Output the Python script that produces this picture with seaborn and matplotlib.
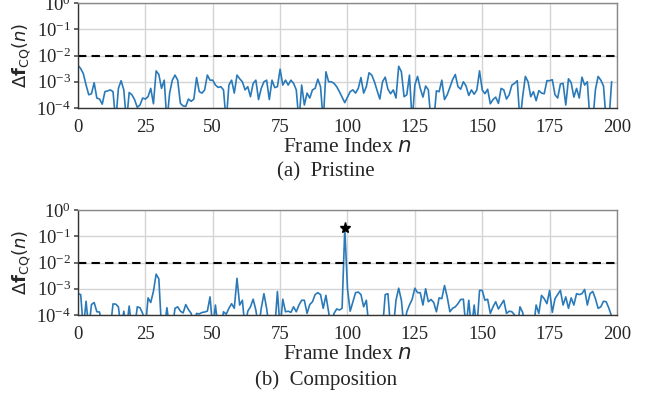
import numpy as np
import pandas as pd
import matplotlib
matplotlib.use("Agg")
import matplotlib.pyplot as plt
import seaborn as sns

C = 3e-5  # values below the axis floor (clipped in the figure)

frames_pristine = list(range(199))
pristine = [
    4.2e-3, 3.2e-3, 2.0e-3, 7.5e-4, 3.2e-4, 3.5e-4, 9.2e-4, 2.4e-4, 2.2e-4, 1.4e-4,
    4.2e-4, 4.5e-4, 4.9e-4, 4.2e-4, C, 5.6e-4, 1.1e-3, 4.9e-4, C, 3.9e-4,
    3.2e-4, 2.1e-4, 1.06e-4, 1.3e-4, 2.4e-4, 2.2e-4, 2.7e-4, 5.6e-4, 1.45e-4, 2.6e-3,
    1.9e-3, 5.6e-4, 1.15e-3, C, 3.7e-4, 1.15e-3, 1.8e-3, 1.15e-3, 1.5e-4, 1.2e-4,
    1.15e-4, 2.2e-4, 1.8e-4, 2.2e-4, 1.45e-3, 4.2e-4, 3.7e-4, 4.9e-4, 1.8e-3, 1.15e-3,
    1.15e-3, 7.5e-4, 6.1e-4, 6.5e-4, 4.9e-4, C, 7.5e-4, 1.15e-3, 3.7e-4, 1.8e-3,
    1.3e-3, 1.0e-3, 4.9e-4, 6.5e-4, 2.7e-4, 8.7e-4, 1.15e-3, 2.1e-4, 5.6e-4, 1.0e-3,
    1.15e-3, 2.1e-4, 1.15e-3, 6.0e-4, 6.5e-4, 3.0e-3, 7.5e-4, 1.15e-3, 7.5e-4, 1.15e-3,
    8.7e-4, 4.9e-4, C, 7.5e-4, 1.3e-4, 3.7e-4, 2.4e-4, 4.9e-4, 5.6e-4, 1.26e-3,
    6.5e-4, C, 2.4e-3, 1.0e-3, 1.0e-3, 8.7e-4, 6.5e-4, 4.2e-4, 2.6e-4, 1.6e-4,
    2.6e-4, 4.2e-4, 4.9e-4, 3.7e-4, 5.6e-4, 1.45e-3, 3.7e-4, 6.5e-4, 2.2e-3, 1.8e-3,
    1.0e-3, 4.6e-4, 2.2e-4, 1.0e-3, 1.5e-3, 5.2e-4, 3.5e-4, 4.9e-4, 2.4e-4, 3.9e-3,
    2.4e-3, 2.7e-4, 3.2e-4, 1.8e-3, C, 7.5e-4, 1.6e-3, 5.6e-4, 2.6e-4, 6.9e-4,
    4.9e-4, C, C, 4.5e-4, 4.2e-4, 1.15e-3, 2.1e-4, 3.2e-4, 6.1e-4, 1.2e-3,
    1.9e-3, 6.5e-4, 5.2e-4, 1.0e-3, 6.9e-4, 3.0e-4, 4.9e-4, 3.35e-4, 4.9e-4, 2.6e-3,
    4.9e-4, 3.5e-4, 5.2e-4, 1.45e-4, 2.1e-4, 2.6e-4, 1.5e-4, 5.6e-4, 4.9e-4, 2.2e-4,
    3.2e-4, 7.5e-4, 8.7e-4, 1.1e-3, C, 2.7e-4, 1.6e-3, 1.0e-3, 2.7e-4, 4.2e-4,
    1.9e-4, 4.6e-4, 3.7e-4, 3.5e-4, 1.1e-3, 1.1e-3, 1.2e-3, 3.2e-4, 2.4e-4, 8.2e-4,
    8.7e-4, 1.3e-4, 1.3e-3, 9.2e-4, 2.6e-4, 5.6e-4, 2.4e-4, 1.5e-3, 7.5e-4, 1.0e-3,
    C, C, 5.0e-4, 1.6e-3, 1.15e-3, 6.9e-4, C, C, 1.0e-3,
]

frames_composition = list(range(199))
composition = [
    6.5e-4, 6.0e-4, C, 3.35e-4, C, 2.5e-4, 3.0e-4, 1.33e-4, 1.3e-4, C,
    C, C, C, 2.65e-4, 2.6e-4, 2.05e-4, C, 1.4e-4, C, 2.2e-4,
    C, C, 2.05e-4, 1.9e-4, 1.15e-4, C, 4.5e-4, 3.0e-4, 8.0e-4, 3.6e-3,
    2.4e-3, C, C, 1.9e-4, C, C, 1.8e-4, 2.05e-4, 1.4e-4, 1.2e-4,
    2.5e-4, 1.6e-4, 1.15e-4, C, 1.15e-4, 1.1e-4, 1.25e-4, 1.3e-4, 1.4e-4, 4.9e-4,
    C, 2.4e-4, C, C, 1.33e-4, 1.07e-4, 1.8e-4, 2.7e-4, 1.8e-4, 2.5e-3,
    2.4e-4, 3.65e-4, C, 1.4e-4, 2.05e-4, 4.0e-4, 1.55e-4, C, 1.8e-4, 6.5e-4,
    1.8e-4, C, C, C, 7.9e-4, C, 4.0e-4, 1.33e-4, 1.4e-4, 1.26e-4,
    2.05e-4, 1.33e-4, 2.4e-4, 3.65e-4, 3.65e-4, 1.15e-4, 2.5e-4, 3.2e-4, 6.0e-4, 7.1e-4,
    6.0e-4, 1.8e-4, 5.6e-4, 1.33e-4, C, 1.15e-4, 1.7e-4, 1.55e-4, 1.8e-4, 2.0e-1,
    1.0e-3, 1.4e-4, 3.2e-4, 7.1e-4, 7.5e-4, 6.0e-4, 2.05e-4, 3.65e-4, C, C,
    C, C, C, C, 6.0e-4, 6.5e-4, C, C, 3.65e-4, 1.05e-3,
    3.65e-4, C, 1.33e-4, 2.4e-4, 4.0e-4, 1.05e-3, 7.1e-4, 7.1e-4, 2.4e-4, 1.0e-3,
    3.2e-4, 3.9e-4, 3.0e-4, 1.33e-4, 4.5e-4, 4.2e-4, 1.33e-3, 4.9e-4, 1.33e-4, 1.8e-4,
    2.05e-4, 2.7e-4, 3.9e-4, 4.0e-4, C, 3.65e-4, C, 2.4e-4, C, 8.7e-4,
    8.7e-4, 3.65e-4, 4.0e-4, 1.15e-4, 2.05e-4, 3.2e-4, 1.7e-4, 2.5e-4, 3.65e-4, 1.15e-4,
    1.4e-4, 1.33e-4, 1.0e-4, C, 2.05e-4, 1.26e-4, C, C, C, C,
    2.4e-4, 1.15e-4, 5.6e-4, 4.2e-4, 2.7e-4, 8.7e-4, 1.26e-4, 4.2e-4, 6.0e-4, 8.7e-4,
    2.4e-4, 4.9e-4, 1.8e-4, 4.5e-4, 2.4e-4, 6.5e-4, 6.0e-4, 6.5e-4, 9.4e-4, 2.4e-4,
    6.5e-4, 7.9e-4, 4.2e-4, 1.8e-4, 2.05e-4, 3.35e-4, 3.2e-4, 1.8e-4, 9.0e-5,
]

threshold = 1e-2
detected_frame = [99]
detected_value = [2.0e-1]

xticks = [0, 25, 50, 75, 100, 125, 150, 175, 200]
yticks = [1e-4, 1e-3, 1e-2, 1e-1, 1e0]
captions = ["(a)  Pristine", "(b)  Composition"]

sns.set_theme(style="whitegrid")
plt.rcParams["font.family"] = ["Liberation Serif", "DejaVu Sans"]
plt.rcParams["mathtext.fontset"] = "dejavusans"

fig = plt.figure(figsize=(6.52, 3.98), dpi=100)
ax1 = fig.add_axes([0.1196, 0.7286, 0.8267, 0.2638])
ax2 = fig.add_axes([0.1196, 0.2085, 0.8267, 0.2638])

blue = "#2a7ab9"
df1 = pd.DataFrame({"n": frames_pristine, "v": pristine})
df2 = pd.DataFrame({"n": frames_composition, "v": composition})

for ax, df in [(ax1, df1), (ax2, df2)]:
    sns.lineplot(data=df, x="n", y="v", ax=ax, color=blue, linewidth=1.2)
    ax.axhline(threshold, color="black", linestyle=(0, (4, 2.5)), linewidth=1.5)
    ax.set_yscale("log")
    ax.set_ylim(1e-4, 1e0)
    ax.set_xlim(0, 200)
    ax.set_xticks(xticks)
    ax.set_yticks(yticks)
    ax.grid(True, which="major", color="#d4d4d4", linewidth=1.0)
    ax.grid(False, which="minor")
    ax.set_xlabel(r"Frame Index $n$", fontsize=15.5, labelpad=1)
    ax.set_ylabel(r"$\Delta\mathbf{f}_{\mathrm{CQ}}(n)$", fontsize=13, labelpad=2)
    ax.tick_params(axis="both", labelsize=13.5, pad=2)
    ax.tick_params(axis="y", which="both", left=True, color="#555555")
    ax.tick_params(axis="y", which="major", length=3)
    ax.tick_params(axis="y", which="minor", length=2, width=0.6)
    for s in ["top", "right"]:
        ax.spines[s].set_color("#888888")
    for s in ["left", "bottom"]:
        ax.spines[s].set_color("#333333")
    for s in ax.spines.values():
        s.set_linewidth(1.0)

ax2.plot(detected_frame, detected_value, marker="*", color="black",
         markersize=8, linestyle="none", zorder=5)

fig.text(0.5, 0.568, captions[0], ha="center", va="center", fontsize=15)
fig.text(0.5, 0.046, captions[1], ha="center", va="center", fontsize=15)

fig.savefig("out.png", dpi=100)
